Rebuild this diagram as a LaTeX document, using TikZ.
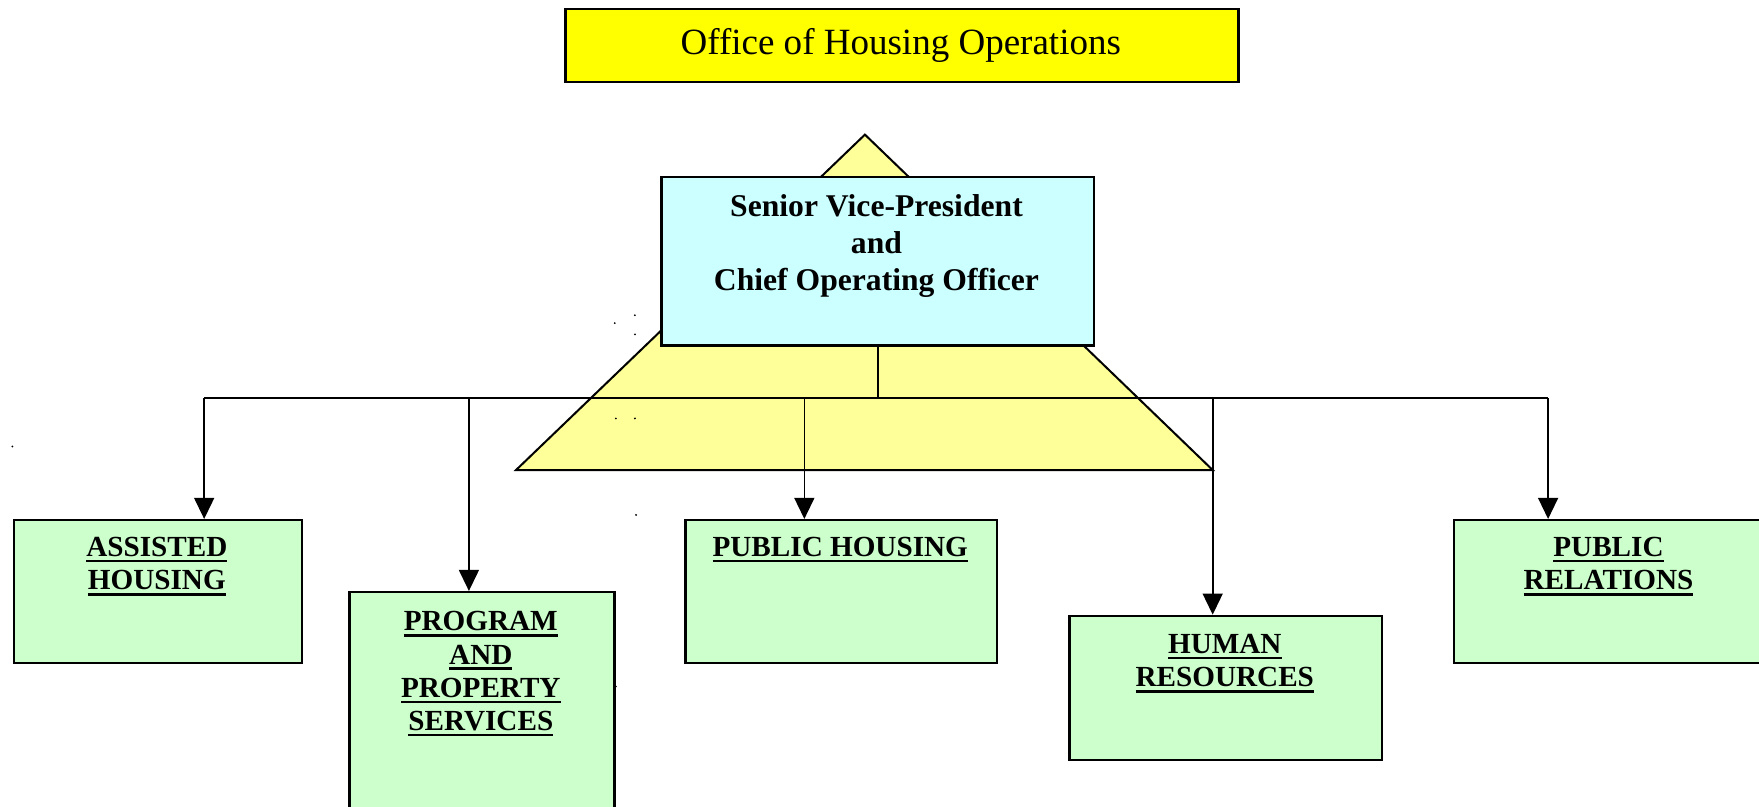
\documentclass[tikz,border=0pt]{standalone}
\usepackage{fontspec}
\setmainfont{Liberation Serif}
\usetikzlibrary{arrows.meta}
\definecolor{topyellow}{HTML}{FFFF00}
\definecolor{triyellow}{HTML}{FFFF99}
\definecolor{svpcyan}{HTML}{CCFFFF}
\definecolor{unitgreen}{HTML}{CCFFCC}
\newcommand\ulx[1]{\setbox0\hbox{#1}\rlap{\rule[-2.6pt]{\wd0}{1.1pt}}\box0}
\tikzset{
  boxbase/.style={draw=black, line width=1pt, inner sep=0pt, anchor=north west},
  topbox/.style={boxbase, fill=topyellow},
  svpbox/.style={boxbase, fill=svpcyan},
  gbox/.style={boxbase, fill=unitgreen},
  toplbl/.style={anchor=base, inner sep=0pt, font=\fontsize{16.5pt}{19pt}\selectfont},
  svplbl/.style={anchor=base, align=center, inner sep=0pt, font=\fontsize{14.1pt}{16.5pt}\selectfont\bfseries},
  glbl/.style={anchor=base, align=center, inner sep=0pt, font=\fontsize{13pt}{14.85pt}\selectfont\bfseries},
  conn/.style={draw=black, line width=0.75pt},
  arr/.style={conn, -{Triangle[length=9.4pt,width=8.9pt]}},
  dotmark/.style={fill=black}
}
\begin{document}
\begin{tikzpicture}[x=0.5pt,y=-0.5pt]
\useasboundingbox (0,0) rectangle (1568,718.5);
% title
\node[topbox, minimum width=300pt, minimum height=32.5pt] (top) at (503,7) {};
\node[toplbl] (toptxt) at (803,48.5) {Office of Housing Operations};
% triangle behind
\filldraw[fill=triyellow, draw=black, line width=0.9pt] (771,120) -- (460,419) -- (1081,419) -- cycle;
% SVP box
\node[svpbox, minimum width=192.75pt, minimum height=75pt] (svp) at (588.7,157) {};
\node[svplbl] (svptxt) at (781.3,259.1) {Senior Vice-President\\and\\Chief Operating Officer};
% bus
\coordinate (b1) at (182,355);
\coordinate (b2) at (418,355);
\coordinate (b3) at (717,355);
\coordinate (b4) at (1081,355);
\coordinate (b5) at (1380,355);
\draw[conn] (svp.south) -- (svp.south |- b1);
\draw[conn] (b1) -- (b5);
% unit boxes
\node[gbox, minimum width=128.5pt, minimum height=63.85pt] (ah) at (11.3,462.6) {};
\node[gbox, minimum width=118.1pt, minimum height=140pt] (pps) at (310.5,526.8) {};
\node[gbox, minimum width=139pt, minimum height=63.85pt] (ph) at (610,462.6) {};
\node[gbox, minimum width=139.35pt, minimum height=64.35pt] (hr) at (952.3,547.9) {};
\node[gbox, minimum width=139pt, minimum height=63.85pt] (pr) at (1295,462.6) {};
% arrows
\draw[arr] (b1) -- (b1 |- ah.north);
\draw[arr] (b2) -- (b2 |- pps.north);
\draw[arr] (b3) -- (b3 |- ph.north);
\draw[arr] (b4) -- (b4 |- hr.north);
\draw[arr] (b5) -- (b5 |- pr.north);
% labels (anchored at the baseline of the last line)
\node[glbl] (ahtxt) at (139.8,525.9) {\ulx{ASSISTED}\\\ulx{HOUSING}};
\node[glbl] (ppstxt) at (428.6,651.3) {\ulx{PROGRAM}\\\ulx{AND}\\\ulx{PROPERTY}\\\ulx{SERVICES}};
\node[glbl] (phtxt) at (749,496.2) {\ulx{PUBLIC HOUSING}};
\node[glbl] (hrtxt) at (1091.8,612.1) {\ulx{HUMAN}\\\ulx{RESOURCES}};
\node[glbl] (prtxt) at (1433.8,525.9) {\ulx{PUBLIC}\\\ulx{RELATIONS}};
% stray marks
\foreach \p in {(548,288),(566,281),(566,298),(549,373),(566,373),(11,398),(567,459),(549,612)}
  \fill[dotmark] \p circle[radius=0.45pt];
\end{tikzpicture}
\end{document}
